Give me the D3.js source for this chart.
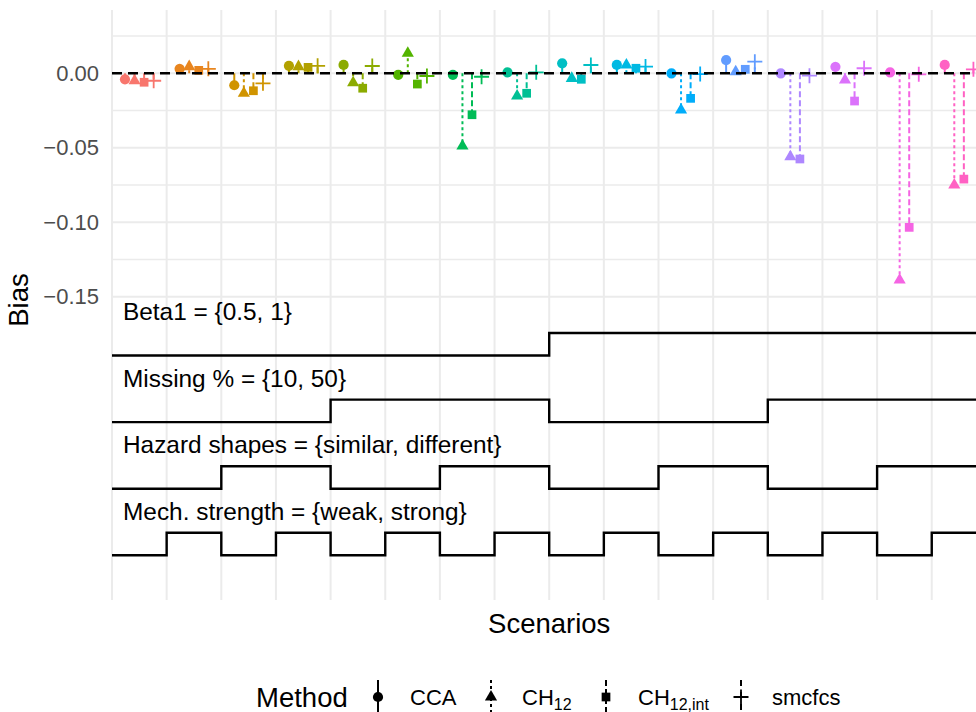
<!DOCTYPE html>
<html>
<head>
<meta charset="utf-8">
<script src="https://cdn.jsdelivr.net/npm/d3@7"></script>
<style>
  body { margin: 0; background: #fff; }
  text { font-family: "Liberation Sans", Arial, Helvetica, sans-serif; }
</style>
</head>
<body>
<svg id="chart" width="976" height="712"></svg>
<script>
// Scenario numbers and methods
const scenarios = [1, 2, 3, 4, 5, 6, 7, 8, 9, 10, 11, 12, 13, 14, 15, 16];
const methods = ["CCA", "CH12", "CH12,int", "smcfcs"];

// Bias per scenario, one array per method
const bias_cca    = [-0.004, 0.003, -0.008, 0.005, 0.0056, -0.001, -0.001, 0.0007, 0.0067, 0.0056, 0.000, 0.0089, 0.000, 0.0044, 0.0007, 0.0056];
const bias_ch12   = [-0.005, 0.0045, -0.0134, 0.0045, -0.0063, 0.0134, -0.0488, -0.0152, -0.0034, 0.0056, -0.0246, 0.001, -0.056, -0.0045, -0.1387, -0.075];
const bias_ch12int = [-0.006, 0.002, -0.0117, 0.004, -0.010, -0.0072, -0.0278, -0.0134, -0.004, 0.0034, -0.0168, 0.0027, -0.0575, -0.0186, -0.1034, -0.071];
const bias_smcfcs = [-0.005, 0.003, -0.0067, 0.005, 0.0049, -0.0018, -0.0023, 0.0007, 0.0056, 0.0045, -0.0005, 0.0078, -0.0016, 0.0034, -0.0007, 0.0027];

// Design factors (nested loop)
const beta1 = ["0.5", "0.5", "0.5", "0.5", "0.5", "0.5", "0.5", "0.5", "1", "1", "1", "1", "1", "1", "1", "1"];
const missing_pct = ["10", "10", "10", "10", "50", "50", "50", "50", "10", "10", "10", "10", "50", "50", "50", "50"];
const hazard = ["similar", "similar", "different", "different", "similar", "similar", "different", "different",
                "similar", "similar", "different", "different", "similar", "similar", "different", "different"];
const mech = ["weak", "strong", "weak", "strong", "weak", "strong", "weak", "strong",
              "weak", "strong", "weak", "strong", "weak", "strong", "weak", "strong"];

const step_labels = ["Beta1 = {0.5, 1}", "Missing % = {10, 50}", "Hazard shapes = {similar, different}", "Mech. strength = {weak, strong}"];
const step_levels = [["0.5", "1"], ["10", "50"], ["similar", "different"], ["weak", "strong"]];

// ggplot hue palette for 16 scenarios
const palette = ["#F8766D", "#E8851E", "#D09400", "#B2A100", "#8BAB00", "#53B400", "#00BC56", "#00C094",
                 "#00BFC4", "#00B9E3", "#00ADFA", "#619CFF", "#AE87FF", "#DB72FB", "#F564E3", "#FF61C3"];

const y_breaks = [0, -0.05, -0.1, -0.15];
const y_minor = [0.025, -0.025, -0.075, -0.125];
const tick_labels = ["0.00", "\u22120.05", "\u22120.10", "\u22120.15"];

// step plot placement (like looplot's steps.y.base / height)
const steps_base = -0.1894;
const steps_height = 0.0151;
const steps_gap = 0.0447;

const width = 976;
const height = 712;

const x = d3.scaleLinear().domain([0.5, 16.5]).range([112, 986.4]);
const y = d3.scaleLinear().domain([-0.3535, 0.0425]).range([600, 10]);
const colour = d3.scaleOrdinal(scenarios, palette);
const dodge = d3.scaleBand().domain(methods).range([-0.35, 0.35]);

const dash = {"CCA": null, "CH12": "3,3", "CH12,int": "6,3", "smcfcs": "6,6"};

const svg = d3.select("#chart");
svg.append("rect").attr("width", width).attr("height", height).attr("fill", "#fff");

// Gridlines
const grid = svg.append("g");
grid.selectAll(".vgrid")
  .data(d3.range(0, 17).map(k => k + 0.5))
  .join("line")
  .attr("x1", d => x(d)).attr("x2", d => x(d))
  .attr("y1", y.range()[1]).attr("y2", y.range()[0])
  .attr("stroke", "#ebebeb").attr("stroke-width", 2);
grid.selectAll(".hgrid")
  .data(y_breaks.concat(y_minor))
  .join("line")
  .attr("x1", x.range()[0]).attr("x2", x.range()[1])
  .attr("y1", d => y(d)).attr("y2", d => y(d))
  .attr("stroke", "#ebebeb").attr("stroke-width", d => y_breaks.includes(d) ? 2 : 1.6);

// Long format table
const series = [bias_cca, bias_ch12, bias_ch12int, bias_smcfcs];
const rows = [];
scenarios.forEach((s, i) => {
  methods.forEach((m, j) => {
    rows.push({scenario: s, method: m, bias: series[j][i]});
  });
});
const px = d => x(d.scenario + dodge(d.method) + dodge.bandwidth() / 2);

// Segments from 0 to estimate
svg.append("g").selectAll("line")
  .data(rows)
  .join("line")
  .attr("x1", px).attr("x2", px)
  .attr("y1", y(0)).attr("y2", d => y(d.bias))
  .attr("stroke", d => colour(d.scenario))
  .attr("stroke-width", 2)
  .attr("stroke-dasharray", d => dash[d.method]);

// Point shapes
const shape_path = (m) => {
  if (m == "CCA") return d3.symbol(d3.symbolCircle, 82)();
  if (m == "CH12") return d3.symbol(d3.symbolTriangle, 64)();
  if (m == "CH12,int") return d3.symbol(d3.symbolSquare, 76)();
  return "M-7.5,0H7.5M0,-7.5V7.5";
};
svg.append("g").selectAll("path")
  .data(rows)
  .join("path")
  .attr("transform", d => `translate(${px(d)},${y(d.bias)})`)
  .attr("d", d => shape_path(d.method))
  .attr("fill", d => d.method == "smcfcs" ? "none" : colour(d.scenario))
  .attr("stroke", d => d.method == "smcfcs" ? colour(d.scenario) : "none")
  .attr("stroke-width", 1.8);

// Zero reference line
svg.append("line")
  .attr("x1", x.range()[0]).attr("x2", x.range()[1])
  .attr("y1", y(0)).attr("y2", y(0))
  .attr("stroke", "#000").attr("stroke-width", 2.5)
  .attr("stroke-dasharray", "10,6");

// Step functions for design factors
const factors = [beta1, missing_pct, hazard, mech];
const step_line = d3.line().x(d => x(d[0])).y(d => y(d[1]));
factors.forEach((f, k) => {
  const low = steps_base - k * steps_gap;
  const pts = [];
  scenarios.forEach((s, i) => {
    const v = low + step_levels[k].indexOf(f[i]) * steps_height;
    pts.push([s - 0.5, v]);
    pts.push([s + 0.5, v]);
  });
  svg.append("path")
    .attr("d", step_line(pts))
    .attr("fill", "none")
    .attr("stroke", "#000")
    .attr("stroke-width", 2.4);
  svg.append("text")
    .attr("x", x(0.5) + 11)
    .attr("y", y(low + steps_height) - 13)
    .attr("font-size", 24.4)
    .attr("fill", "#000")
    .text(step_labels[k]);
});

// Y axis
const y_axis = svg.append("g")
  .attr("transform", `translate(${x.range()[0]},0)`)
  .call(d3.axisLeft(y).tickValues(y_breaks).tickFormat((d, i) => tick_labels[i]).tickSize(0).tickPadding(13));
y_axis.select(".domain").remove();
y_axis.selectAll("text")
  .attr("font-size", 22)
  .attr("font-family", "Liberation Sans, Arial, sans-serif")
  .attr("fill", "#4d4d4d");

// Axis titles
svg.append("text")
  .attr("transform", `translate(28,300) rotate(-90)`)
  .attr("text-anchor", "middle")
  .attr("font-size", 27.5)
  .text("Bias");
svg.append("text")
  .attr("x", (x.range()[0] + x.range()[1]) / 2)
  .attr("y", 633)
  .attr("text-anchor", "middle")
  .attr("font-size", 27.5)
  .text("Scenarios");

// Legend
const legend = svg.append("g");
legend.append("text")
  .attr("x", 256).attr("y", 707)
  .attr("font-size", 27.5)
  .text("Method");
const key_x = [378, 491, 606, 741];
const label_x = [410, 522, 638, 772];
methods.forEach((m, j) => {
  legend.append("line")
    .attr("x1", key_x[j]).attr("x2", key_x[j])
    .attr("y1", 680).attr("y2", 716)
    .attr("stroke", "#000").attr("stroke-width", 2)
    .attr("stroke-dasharray", dash[m]);
  legend.append("path")
    .attr("transform", `translate(${key_x[j]},697)`)
    .attr("d", shape_path(m))
    .attr("fill", m == "smcfcs" ? "none" : "#000")
    .attr("stroke", m == "smcfcs" ? "#000" : "none")
    .attr("stroke-width", 1.8);
  const t = legend.append("text")
    .attr("x", label_x[j]).attr("y", 705)
    .attr("font-size", 22);
  if (m == "CH12" || m == "CH12,int") {
    t.append("tspan").text("CH");
    t.append("tspan").attr("font-size", 16).attr("dy", 5).text(m == "CH12" ? "12" : "12,int");
  } else {
    t.text(m);
  }
});
</script>
</body>
</html>
